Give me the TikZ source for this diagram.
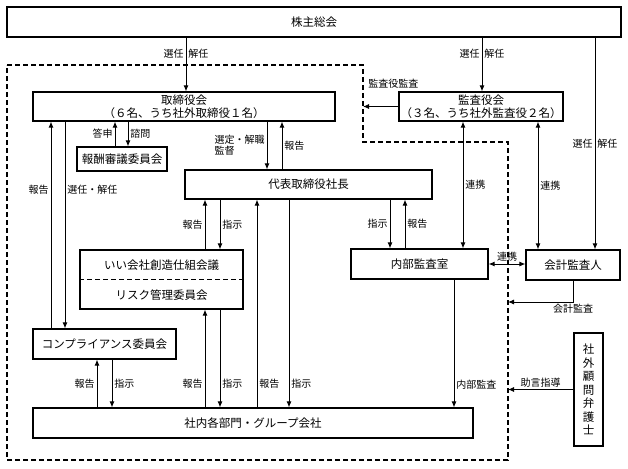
\documentclass[tikz,border=0pt]{standalone}
\usepackage{fontspec}
\setmainfont{Noto Sans CJK JP}
\usetikzlibrary{arrows.meta}

\begin{document}
\begin{tikzpicture}[
    x=1pt, y=-1pt,
    box/.style={rectangle, draw, line width=1.2pt, inner sep=1.5pt, align=center, font=\fontsize{11.5}{13}\selectfont},
    txt/.style={font=\fontsize{11.5}{13}\selectfont, inner sep=1pt},
    lbl/.style={font=\fontsize{10}{11}\selectfont, inner sep=2pt},
    arrow/.style={-{Latex[length=6pt, width=5pt]}, line width=0.9pt},
    biarrow/.style={{Latex[length=6pt, width=5pt]}-{Latex[length=6pt, width=5pt]}, line width=0.9pt},
    region/.style={line width=1.2pt, dash pattern=on 5pt off 3pt}
]
    \useasboundingbox (0,0) rectangle (628,468);

    % Main boxes
    \node[box, minimum width=614, minimum height=30] (sh) at (314,22) {株主総会};
    \node[box, minimum width=302, minimum height=29] (board) at (184,106.5) {取締役会\\（６名、うち社外取締役１名）};
    \node[box, minimum width=158, minimum height=29] (kansa) at (481,106.5) {監査役会\\（３名、うち社外監査役２名）};
    \node[box, minimum width=90, minimum height=24] (remun) at (122,159) {報酬審議委員会};
    \node[box, minimum width=247, minimum height=29] (pres) at (308.5,184.5) {代表取締役社長};
    \node[box, minimum width=137, minimum height=30] (naibu) at (419.5,264) {内部監査室};
    \node[box, minimum width=94, minimum height=30] (kaikei) at (573,265) {会計監査人};
    \node[box, minimum width=143, minimum height=30] (comp) at (104.5,344) {コンプライアンス委員会};
    \node[box, minimum width=440, minimum height=30] (corp) at (253,423) {社内各部門・グループ会社};
    \node[box, minimum width=29, minimum height=113, font=\fontsize{11.5}{13.5}\selectfont] (lawyer) at (588.5,389.5) {社\\外\\顧\\問\\弁\\護\\士};

    % Committee box with dashed divider
    \node[box, minimum width=163, minimum height=59] (comm) at (161.5,279.5) {};
    \draw[region, line width=1pt] (comm.west) -- (comm.east);
    \node[txt] (comm1) at (161.5,265) {いい会社創造仕組会議};
    \node[txt] (comm2) at (161.5,295) {リスク管理委員会};

    % Audited region
    \draw[region] (7,65) -- (363,65) -- (363,142) -- (508,142) -- (508,460) -- (7,460) -- cycle;
    \coordinate (kansaend) at (363,106.5);
    \coordinate (kaikeiend) at (508,302);
    \coordinate (lawyerend) at (508,389.5);

    % Shareholders
    \draw[arrow] (186,0 |- sh.south) -- (186,0 |- board.north) node[lbl, pos=.3, left] {選任} node[lbl, pos=.3, right] {解任};
    \draw[arrow] (482,0 |- sh.south) -- (482,0 |- kansa.north) node[lbl, pos=.3, left] {選任} node[lbl, pos=.3, right] {解任};
    \draw[arrow] (595,0 |- sh.south) -- (595,0 |- kaikei.north) node[lbl, midway, left] {選任} node[lbl, midway, right] {解任};

    % Audit
    \draw[arrow] (kansa.west) -- (kansaend) node[lbl, at end, anchor=west, xshift=3pt, yshift=23pt] {監査役監査};
    \draw[biarrow] (463,0 |- kansa.south) -- (463,0 |- naibu.north) node[lbl, midway, right] {連携};
    \draw[biarrow] (538,0 |- kansa.south) -- (538,0 |- kaikei.north) node[lbl, midway, right] {連携};
    \draw[biarrow] (naibu.east) -- (naibu.east -| kaikei.west) node[lbl, midway, above] {連携};
    \draw[arrow] (kaikei.south) |- (kaikeiend) node[lbl, pos=.5, below] {会計監査};
    \draw[arrow] (lawyer.west) -- (lawyerend) node[lbl, midway, above] {助言指導};
    \draw[arrow] (454,0 |- naibu.south) -- (454,0 |- corp.north) node[lbl, pos=.82, right] {内部監査};

    % Board
    \draw[arrow] (115,0 |- remun.north) -- (115,0 |- board.south) node[lbl, midway, left] {答申};
    \draw[arrow] (128,0 |- board.south) -- (128,0 |- remun.north) node[lbl, midway, right] {諮問};
    \draw[arrow] (51,0 |- comp.north) -- (51,0 |- board.south) node[lbl, pos=.67, left] {報告};
    \draw[arrow] (65,0 |- board.south) -- (65,0 |- comp.north) node[lbl, pos=.33, right] {選任・解任};
    \draw[arrow] (267,0 |- board.south) -- (267,0 |- pres.north) node[lbl, midway, left, align=left] {選定・解職\\監督};
    \draw[arrow] (282,0 |- pres.north) -- (282,0 |- board.south) node[lbl, midway, right] {報告};

    % President
    \draw[arrow] (205,0 |- comm.north) -- (205,0 |- pres.south) node[lbl, midway, left] {報告};
    \draw[arrow] (220,0 |- pres.south) -- (220,0 |- comm.north) node[lbl, midway, right] {指示};
    \draw[arrow] (390,0 |- pres.south) -- (390,0 |- naibu.north) node[lbl, midway, left] {指示};
    \draw[arrow] (405,0 |- naibu.north) -- (405,0 |- pres.south) node[lbl, midway, right] {報告};
    \draw[arrow] (257,0 |- corp.north) -- (257,0 |- pres.south) node[lbl, pos=.115, right] {報告};
    \draw[arrow] (289,0 |- pres.south) -- (289,0 |- corp.north) node[lbl, pos=.885, right] {指示};

    % Departments
    \draw[arrow] (205,0 |- corp.north) -- (205,0 |- comm.south) node[lbl, pos=.24, left] {報告};
    \draw[arrow] (220,0 |- comm.south) -- (220,0 |- corp.north) node[lbl, pos=.76, right] {指示};
    \draw[arrow] (97,0 |- corp.north) -- (97,0 |- comp.south) node[lbl, midway, left] {報告};
    \draw[arrow] (112,0 |- comp.south) -- (112,0 |- corp.north) node[lbl, midway, right] {指示};
\end{tikzpicture}
\end{document}
